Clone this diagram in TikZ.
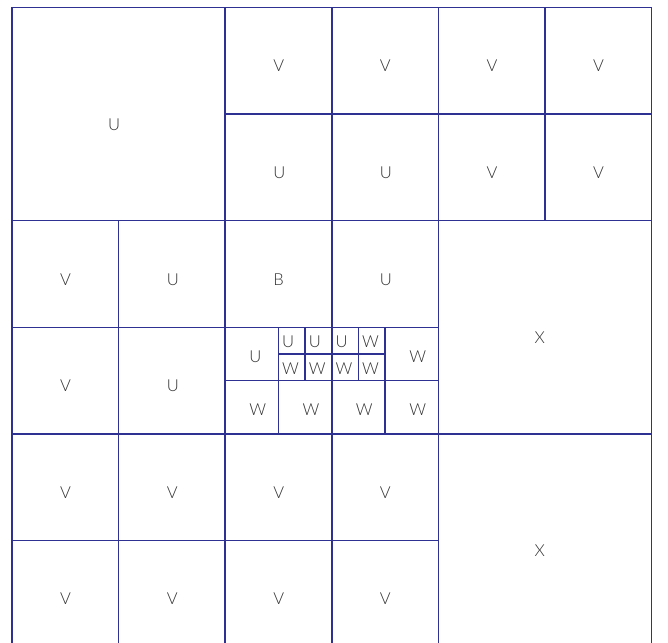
\documentclass[tikz,border=0pt]{standalone}
\usepackage{fontspec}
\setmainfont{Lato Light}
\definecolor{gridc}{HTML}{2E3192}
\definecolor{txtc}{HTML}{333333}
\tikzset{
  gridline/.style={draw=gridc, line width=1.5pt},
  lbl/.style={anchor=base west, inner sep=0pt, text=txtc, font=\fontsize{16.5}{18}\selectfont},
}
\newcommand\gcell[5]{% name, x0, y0, size, label
  \draw[gridline] (#2,#3) rectangle ++(#4,#4);
  \node[lbl] (#1) at ({#2+0.45*#4},{#3+0.55*#4+5.8}) {#5};}
\newcommand\qcellx[5]{% name, x0, y0, size, label (small cell)
  \draw[gridline] (#2,#3) rectangle ++(#4,#4);
  \node[lbl] (#1) at ({#2+3.5},{#3+0.55*#4+5.8}) {#5};}
\begin{document}
\begin{tikzpicture}[x=1pt,y=-1pt]
\useasboundingbox (0,0) rectangle (668,642);
\clip (0,0) rectangle (668,642);
% large cells
\gcell{ubig}{12}{7.5}{213.2}{U}
\gcell{xa}{438.4}{220.7}{213.2}{X}
\gcell{xb}{438.4}{433.9}{213.2}{X}
% row 0
\gcell{r0c2}{225.2}{7.5}{106.6}{V}
\gcell{r0c3}{331.8}{7.5}{106.6}{V}
\gcell{r0c4}{438.4}{7.5}{106.6}{V}
\gcell{r0c5}{545}{7.5}{106.6}{V}
% row 1
\gcell{r1c2}{225.2}{114.1}{106.6}{U}
\gcell{r1c3}{331.8}{114.1}{106.6}{U}
\gcell{r1c4}{438.4}{114.1}{106.6}{V}
\gcell{r1c5}{545}{114.1}{106.6}{V}
% row 2
\gcell{r2c0}{12}{220.7}{106.6}{V}
\gcell{r2c1}{118.6}{220.7}{106.6}{U}
\gcell{r2c2}{225.2}{220.7}{106.6}{B}
\gcell{r2c3}{331.8}{220.7}{106.6}{U}
% row 3
\gcell{r3c0}{12}{327.3}{106.6}{V}
\gcell{r3c1}{118.6}{327.3}{106.6}{U}
% half cells
\gcell{h1}{225.2}{327.3}{53.3}{U}
\gcell{h2}{385.1}{327.3}{53.3}{W}
\gcell{h3}{225.2}{380.6}{53.3}{W}
\gcell{h4}{278.5}{380.6}{53.3}{W}
\gcell{h5}{331.8}{380.6}{53.3}{W}
\gcell{h6}{385.1}{380.6}{53.3}{W}
% quarter cells
\qcellx{q1}{278.5}{327.3}{26.65}{U}
\qcellx{q2}{305.15}{327.3}{26.65}{U}
\qcellx{q3}{331.8}{327.3}{26.65}{U}
\qcellx{q4}{358.45}{327.3}{26.65}{W}
\qcellx{q5}{278.5}{353.95}{26.65}{W}
\qcellx{q6}{305.15}{353.95}{26.65}{W}
\qcellx{q7}{331.8}{353.95}{26.65}{W}
\qcellx{q8}{358.45}{353.95}{26.65}{W}
% row 4
\gcell{r4c0}{12}{433.9}{106.6}{V}
\gcell{r4c1}{118.6}{433.9}{106.6}{V}
\gcell{r4c2}{225.2}{433.9}{106.6}{V}
\gcell{r4c3}{331.8}{433.9}{106.6}{V}
% row 5
\gcell{r5c0}{12}{540.5}{106.6}{V}
\gcell{r5c1}{118.6}{540.5}{106.6}{V}
\gcell{r5c2}{225.2}{540.5}{106.6}{V}
\gcell{r5c3}{331.8}{540.5}{106.6}{V}
\end{tikzpicture}
\end{document}
